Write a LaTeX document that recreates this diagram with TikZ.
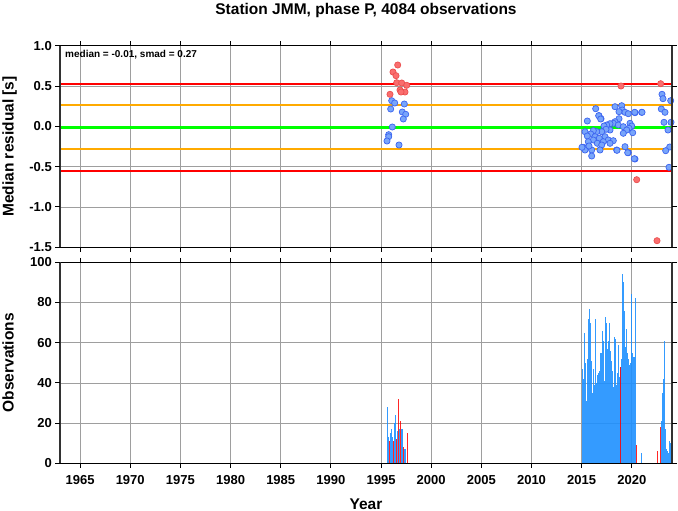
\documentclass[tikz,border=0pt]{standalone}
\usepackage{fontspec}
\setmainfont{Liberation Sans}
\usetikzlibrary{calc}
\definecolor{obsblue}{RGB}{30,144,255}
\definecolor{ptblue}{RGB}{120,165,250}
\definecolor{ptblueedge}{RGB}{60,100,240}
\definecolor{ptred}{RGB}{250,110,110}
\definecolor{ptrededge}{RGB}{235,80,80}
\definecolor{framegray}{RGB}{50,50,50}
\definecolor{smadorange}{RGB}{255,170,0}
\tikzset{
  gridline/.style={line width=0.8pt, color=black!38},
  tickline/.style={line width=1pt, color=black},
  ticklab/.style={font=\fontsize{13}{14}\selectfont\bfseries, inner sep=0pt},
  axislab/.style={font=\fontsize{15.5}{17}\selectfont\bfseries, inner sep=0pt},
  bluept/.style={fill=ptblue, draw=ptblueedge, line width=0.7pt},
  redpt/.style={fill=ptred, draw=ptrededge, line width=0.7pt},
  bluebar/.style={fill=obsblue, fill opacity=0.9},
  redbar/.style={fill=red, fill opacity=0.85}
}
\begin{document}
\begin{tikzpicture}[x=1pt,y=-1pt]
			\useasboundingbox (0,0) rectangle (678,511);
			
			%%%%% TITLE %%%%%
			\node[axislab, anchor=base] (title) at (366, 14.7) {Station JMM, phase P, 4084 observations};
			
			%%%%% GRID %%%%%
			\foreach \k in {0,...,11}{
				\draw[gridline] ({80.07+50.16*\k}, 45.7) -- ({80.07+50.16*\k}, 247.3);
				\draw[gridline] ({80.07+50.16*\k}, 262.3) -- ({80.07+50.16*\k}, 463.3);
			}
			\foreach \k in {1,...,4}{
				\draw[gridline] (60, {45.7+40.32*\k}) -- (672, {45.7+40.32*\k});
				\draw[gridline] (60, {262.3+40.2*\k}) -- (672, {262.3+40.2*\k});
			}
			
			%%%%% MEDIAN AND SMAD LINES %%%%%
			\draw[line width=2pt, color=red] (60, 83.6) -- (672, 83.6);
			\draw[line width=2pt, color=red] (60, 170.7) -- (672, 170.7);
			\draw[line width=2pt, color=smadorange] (60, 105.3) -- (672, 105.3);
			\draw[line width=2pt, color=smadorange] (60, 148.9) -- (672, 148.9);
			\draw[line width=3pt, color=green] (60, 127.1) -- (672, 127.1);
			
			\node[font=\fontsize{10}{11}\selectfont\bfseries, inner sep=0pt, anchor=base west] (stats) at (65, 57.7) {median = -0.01, smad = 0.27};
			
			%%%%% RESIDUALS %%%%%
			\foreach \x/\y in {391.7/100.7, 394.7/103, 404.3/104, 390.7/109, 402.3/112, 405.7/114.3, 403.3/119, 392.3/127, 388.7/134.7, 388.7/136.7, 387/141, 399/145,
				595.7/108.7, 615/106.7, 621.7/105.7, 622.3/110, 619/111.7, 625/112.3, 628.3/113.7, 635/112.7, 641.7/112.3, 599/115.7, 601/118.7, 587.3/121, 619/118.7, 615/121.7,
				613.3/123.3, 610/123.7, 606.7/125, 604/126, 618.3/125, 623.3/126.7, 630/123.3, 631.7/126, 629/128.3, 626.7/130, 632.7/132.7, 623.3/133.3, 610/130, 606/129.3,
				601.7/131.7, 596.7/131.7, 593.3/130.7, 585/131.7, 590.7/134, 587.3/136, 595/136.7, 605/136.7, 599.3/138.3, 608.3/140, 613.3/140.7, 593.3/140, 588.3/141.7,
				603.3/141.7, 597.3/143.3, 610/143.3, 601.7/145, 588.3/146.7, 583.3/147.3, 585/150, 591.7/150, 600/150, 616.7/150, 625/146.7, 628.3/152.7, 591.7/156, 635/159,
				598.7/115.7, 600.7/119, 582/147.3, 589/146, 634.7/112.3, 642/112.3, 634.3/158.7, 617/150.3, 627.7/152.7,
				662/94.3, 663/98.7, 670.7/100.7, 661.3/109, 665/112.3, 664/122.3, 671/122.3, 668/130, 669.7/147, 665.7/150.7, 669/167.3}
				\draw[bluept] (\x, \y) circle (3.1);
			\foreach \x/\y in {397.7/65, 393/72, 396/75.7, 396.7/82.7, 401.7/83, 406.7/85.3, 400/90, 405/92, 401/92, 390/94.3,
				660.7/83.7, 621/86, 636.7/179.7, 657/240.7}
				\draw[redpt] (\x, \y) circle (3.1);
			
			%%%%% OBSERVATIONS %%%%%
			\foreach \x/\h in {387.3/28, 388.3/13, 390.3/15, 391.3/17, 392.3/13, 394.3/20, 395.3/24, 397.3/16, 399.3/17, 401.3/17, 402.3/17, 404.3/7, 405.3/7,
				641.2/5, 661/21, 662/35, 663/42, 664/61, 665/17, 666/7, 667/6, 668/5, 669/11, 670/10}
				\fill[bluebar] (\x, 463.3) rectangle ({\x+1}, {463.3-2.01*\h});
			\foreach \h [count=\i] in {47, 42, 65, 50, 31, 52, 72, 77, 70, 51, 35, 47, 39, 72, 40, 44, 45, 46, 55, 55, 66, 61, 41, 73, 70, 57, 61, 70,
				56, 51, 46, 38, 63, 62, 39, 45, 59, 43, 48, 52, 94, 90, 76, 58, 67, 55, 52, 49, 50, 84, 55, 53, 53, 82}
				\fill[bluebar] ({580.7+\i}, 463.3) rectangle ({581.7+\i}, {463.3-2.01*\h});
			\foreach \x/\h in {389.3/11, 393.3/11, 396.3/12, 398.3/32, 400.3/21, 403.3/8, 406.7/15,
				620.3/48, 636.3/9, 656.8/6, 659.8/18}
				\fill[redbar] (\x, 463.3) rectangle ({\x+1}, {463.3-2.01*\h});
			
			%%%%% FRAMES %%%%%
			\draw[line width=1.3pt] (60, 45.7) -- (672, 45.7);
			\draw[line width=1.3pt] (60, 247.3) -- (672, 247.3);
			\draw[line width=1.3pt] (60, 262.3) -- (672, 262.3);
			\draw[line width=1.3pt] (60, 463.3) -- (672, 463.3);
			\draw[line width=2.2pt, color=framegray] (60, 45.7) -- (60, 247.3);
			\draw[line width=2.2pt, color=framegray] (672, 45.7) -- (672, 247.3);
			\draw[line width=2.2pt, color=framegray] (60, 262.3) -- (60, 463.3);
			\draw[line width=2.2pt, color=framegray] (672, 262.3) -- (672, 463.3);
			
			%%%%% TICKS AND LABELS %%%%%
			\foreach \v [count=\k from 0] in {1.0, 0.5, 0.0, -0.5, -1.0, -1.5}{
				\draw[tickline] (55, {45.7+40.32*\k}) -- (60, {45.7+40.32*\k});
				\draw[tickline] (672, {45.7+40.32*\k}) -- (677, {45.7+40.32*\k});
				\node[ticklab, anchor=east] (res\k) at (52, {45.7+40.32*\k}) {\v};
			}
			\foreach \v [count=\k from 0] in {100, 80, 60, 40, 20, 0}{
				\draw[tickline] (55, {262.3+40.2*\k}) -- (60, {262.3+40.2*\k});
				\draw[tickline] (672, {262.3+40.2*\k}) -- (677, {262.3+40.2*\k});
				\node[ticklab, anchor=east] (obs\k) at (52, {262.3+40.2*\k}) {\v};
			}
			\foreach \yr [count=\k from 0] in {1965, 1970, 1975, 1980, 1985, 1990, 1995, 2000, 2005, 2010, 2015, 2020}{
				\draw[tickline] ({80.07+50.16*\k}, 41.2) -- ({80.07+50.16*\k}, 45.7);
				\draw[tickline] ({80.07+50.16*\k}, 247.3) -- ({80.07+50.16*\k}, 251.8);
				\draw[tickline] ({80.07+50.16*\k}, 257.8) -- ({80.07+50.16*\k}, 262.3);
				\draw[tickline] ({80.07+50.16*\k}, 463.3) -- ({80.07+50.16*\k}, 467.8);
				\node[ticklab, anchor=base] (yr\k) at ({80.07+50.16*\k}, 484.3) {\yr};
			}
			
			%%%%% AXIS LABELS %%%%%
			\node[axislab, rotate=90, anchor=base] (reslab) at (13.5, 146.5) {Median residual [s]};
			\node[axislab, rotate=90, anchor=base] (obslab) at (13.5, 362.8) {Observations};
			\node[axislab, anchor=base] (yearlab) at (366, 509) {Year};
			
		\end{tikzpicture}
\end{document}
